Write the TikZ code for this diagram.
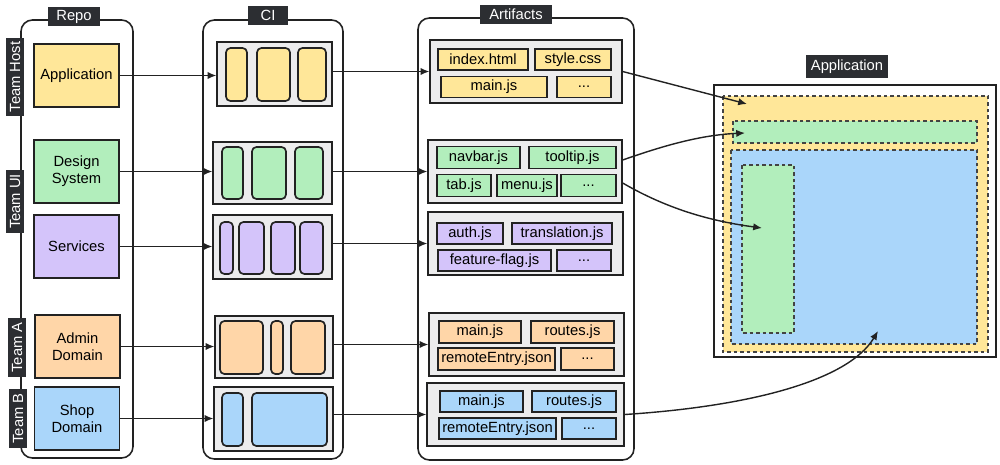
\documentclass[tikz,border=0pt]{standalone}
\usepackage{fontspec}
\setmainfont{Liberation Sans}
\usetikzlibrary{arrows.meta,calc,positioning}

\definecolor{ink}{RGB}{34,34,34}
\definecolor{tagc}{RGB}{44,46,50}
\definecolor{groupc}{RGB}{236,236,237}
\definecolor{hostc}{RGB}{255,231,153}
\definecolor{uic}{RGB}{178,238,188}
\definecolor{svcc}{RGB}{212,196,250}
\definecolor{teamac}{RGB}{255,214,168}
\definecolor{teambc}{RGB}{170,214,250}
\newcommand\moredots{...}

\begin{document}
\begin{tikzpicture}[x=0.02cm,y=-0.02cm,
  every node/.style={font=\fontsize{8.4}{9.7}\selectfont},
  wd/.style={minimum width=#1*0.02cm},
  ht/.style={minimum height=#1*0.02cm},
  lane/.style={draw=ink,line width=0.9pt,rounded corners=6.5pt},
  tag/.style={fill=tagc,text=white,inner sep=0pt,ht=19},
  teamtag/.style={fill=tagc,text=white,rotate=90,inner ysep=0pt,inner xsep=2.3pt,ht=18},
  repobox/.style={draw=ink,line width=0.7pt,wd=85,ht=63,align=center,inner sep=0pt},
  group/.style={draw=ink,fill=groupc,line width=0.75pt,inner sep=0pt,ht=63},
  slot/.style={draw=ink,line width=0.95pt,rounded corners=2.5pt},
  item/.style={draw=ink,line width=0.9pt,inner sep=0pt,ht=21},
  zone/.style={draw=ink!85,line width=0.6pt,dash pattern=on 2.2pt off 1.5pt},
  flow/.style={draw=ink,line width=0.8pt,-{Latex[length=5pt,width=4.2pt]}}]

  \useasboundingbox (0,0) rectangle (1000,464);

  % columns
  \draw[lane] (21,20) rectangle (133,458);
  \draw[lane] (203,20) rectangle (343,459);
  \draw[lane] (418,18) rectangle (634,460);

  \node[tag,wd=52] (repoT) at (74,16.5) {Repo};
  \node[tag,wd=40] (ciT) at (268,15) {CI};
  \node[tag,wd=72] (artT) at (516,14.5) {Artifacts};

  % teams
  \node[teamtag] (tmHost) at (15,77) {Team Host};
  \node[teamtag] (tmUI) at (15,201.5) {Team UI};
  \node[teamtag] (tmA) at (17,347.5) {Team A};
  \node[teamtag] (tmB) at (18,418.5) {Team B};

  % repos
  \node[repobox,fill=hostc] (app) at (76.5,75.5) {Application};
  \node[repobox,fill=uic] (ds) at (76.5,171.5) {Design\\System};
  \node[repobox,fill=svcc] (svc) at (76.5,246.5) {Services};
  \node[repobox,fill=teamac] (admin) at (77.5,346.5) {Admin\\Domain};
  \node[repobox,fill=teambc] (shop) at (77,418.5) {Shop\\Domain};

  % ci
  \node[group,wd=115,ht=64] (ciHost) at (274.5,74) {};
  \node[group,wd=119,ht=62] (ciUI) at (272.5,173) {};
  \node[group,wd=119,ht=64] (ciSvc) at (272.5,247) {};
  \node[group,wd=118,ht=62] (ciA) at (274,347) {};
  \node[group,wd=119,ht=64] (ciB) at (273.5,419) {};

  \foreach \a/\b in {226/247,257/290,298/326}
    \draw[slot,fill=hostc] (\a,48) rectangle (\b,101);
  \foreach \a/\b in {222/243,252/286,295/323}
    \draw[slot,fill=uic] (\a,147) rectangle (\b,199);
  \foreach \a/\b in {220/233,239/264,271/295,300/323}
    \draw[slot,fill=svcc] (\a,222) rectangle (\b,274);
  \foreach \a/\b in {220/263,271/283,291/325}
    \draw[slot,fill=teamac] (\a,321) rectangle (\b,374);
  \foreach \a/\b in {222/243,252/327}
    \draw[slot,fill=teambc] (\a,393) rectangle (\b,446);

  % artifacts
  \node[group,wd=192] (artHost) at (526,71.5) {};
  \node[group,wd=194] (artUI) at (525,171.5) {};
  \node[group,wd=195] (artSvc) at (525.5,243.5) {};
  \node[group,wd=195] (artA) at (526.5,344.5) {};
  \node[group,wd=197] (artB) at (525.5,414.5) {};

  \foreach \t/\x/\y/\w [count=\i] in {index.html/483/59.5/90, style.css/573/59.5/76,
      main.js/494/87/106, \moredots/584/87/54}
    \node[item,fill=hostc,wd=\w] (host\i) at (\x,\y) {\t};
  \foreach \t/\x/\y/\w [count=\i] in {navbar.js/478.5/157.5/83, tooltip.js/572.5/157.5/87,
      tab.js/464/185.5/54, menu.js/527/185.5/60, \moredots/588.5/185.5/55}
    \node[item,fill=uic,wd=\w,ht=22] (ui\i) at (\x,\y) {\t};
  \foreach \t/\x/\y/\w [count=\i] in {auth.js/470/233.5/66, translation.js/562/233.5/100,
      feature-flag.js/494.5/260.5/113, \moredots/584/260.5/54}
    \node[item,fill=svcc,wd=\w] (svc\i) at (\x,\y) {\t};
  \foreach \t/\x/\y/\w [count=\i] in {main.js/480/332/82, routes.js/572.5/332/83,
      remoteEntry.json/496.5/359/117, \moredots/587.5/359/53}
    \node[item,fill=teamac,wd=\w,ht=22] (ta\i) at (\x,\y) {\t};
  \foreach \t/\x/\y/\w [count=\i] in {main.js/481.5/401.5/83, routes.js/574/401.5/84,
      remoteEntry.json/497.5/428.5/117, \moredots/589/428.5/54}
    \node[item,fill=teambc,wd=\w] (tb\i) at (\x,\y) {\t};

  % repo -> ci -> artifacts
  \draw[flow] (app.east) -- (app.east -| ciHost.west);
  \draw[flow] (ds.east) -- (ds.east -| ciUI.west);
  \draw[flow] (svc.east) -- (svc.east -| ciSvc.west);
  \draw[flow] (admin.east) -- (admin.east -| ciA.west);
  \draw[flow] (shop.east) -- (shop.east -| ciB.west);

  \draw[flow] (ciHost.east |- artHost.west) -- (artHost.west);
  \draw[flow] (ciUI.east |- artUI.west) -- (artUI.west);
  \draw[flow] (ciSvc.east |- artSvc.west) -- (artSvc.west);
  \draw[flow] (ciA.east |- artA.west) -- (artA.west);
  \draw[flow] (ciB.east |- artB.west) -- (artB.west);

  % application
  \node[tag,wd=82,ht=23] (appT) at (847,66.5) {Application};
  \node[draw=ink,fill=white,line width=0.9pt,wd=282,ht=272,inner sep=0pt] (appPanel) at (855,221) {};
  \draw[zone,fill=hostc] (723,96) rectangle (988,352);
  \draw[zone,fill=uic] (733,121) rectangle (977,143);
  \draw[zone,fill=teambc] (731,150) rectangle (977,344);
  \draw[zone,fill=uic] (742,165) rectangle (794,333);

  \coordinate (inHost) at (747,104);
  \coordinate (inNav) at (745,133);
  \coordinate (inSide) at (762,228);
  \coordinate (inShop) at (878,331);

  \draw[flow] (artHost.east) -- (inHost);
  \draw[flow] ($(artUI.east)+(0,-11.5)$) .. controls +(40,-14) and +(-45,2) .. (inNav);
  \draw[flow] ($(artUI.east)+(0,11.5)$) .. controls +(38,22) and +(-60,-8) .. (inSide);
  \draw[flow] (artB.east) .. controls +(124,-8) and +(-30,50) .. (inShop);
\end{tikzpicture}
\end{document}
